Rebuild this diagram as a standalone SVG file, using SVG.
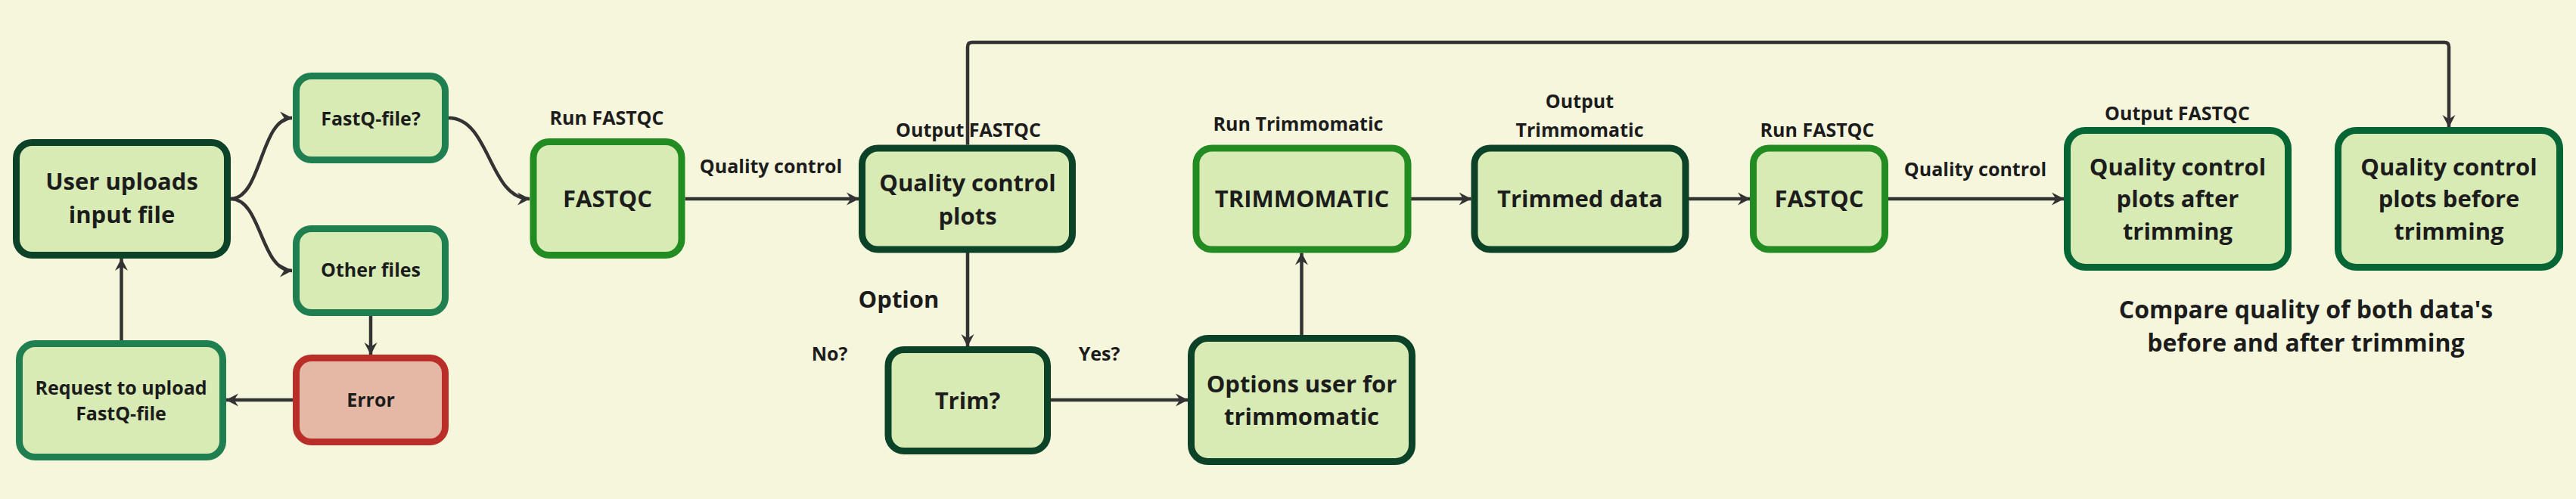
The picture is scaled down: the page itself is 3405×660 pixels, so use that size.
<svg xmlns="http://www.w3.org/2000/svg" width="3405" height="660" viewBox="0 0 3405 660">
<defs>
<style>
.bg{fill:#f5f6dc}
.n{fill:#d8ebb5;stroke-width:9}
.dark{stroke:#0b4228}
.mid{stroke:#1f7f50}
.bright{stroke:#228b22}
.deep{stroke:#066535}
.err{fill:#e4b8a4;stroke:#b92e28}
text{font-family:"Open Sans","Noto Sans","Liberation Sans",sans-serif;font-weight:700;fill:#1c1c1c;text-anchor:middle}
.t31{font-size:31px}
.t25{font-size:25px}
.t32{font-size:32px}
.c{fill:none;stroke:#333333;stroke-width:4.5}
.a{marker-end:url(#arr)}
</style>
<marker id="arr" markerUnits="userSpaceOnUse" viewBox="0 0 17 18" refX="16" refY="9" markerWidth="17" markerHeight="18" orient="auto">
<path d="M0,0.5 L16.5,9 L0,17.5 L5.5,9 Z" fill="#333333"/>
</marker>
</defs>
<rect class="bg" x="0" y="0" width="3405" height="660"/>

<g id="connectors">
<path class="c a" d="M305,263 C346,263 344,156 386,156"/>
<path class="c a" d="M305,263 C346,263 344,358 386,358"/>
<path class="c a" d="M593,156 C648,156 646,263 700,263"/>
<path class="c a" d="M490,418 V469"/>
<path class="c a" d="M387,529 H299"/>
<path class="c a" d="M160.5,450 V342"/>
<path class="c a" d="M905.5,263 H1135"/>
<path class="c a" d="M1279,334 V458"/>
<path class="c a" d="M1389,529 H1570"/>
<path class="c a" d="M1720.5,443 V334.5"/>
<path class="c a" d="M1865,263 H1944.5"/>
<path class="c a" d="M2232,263 H2313"/>
<path class="c a" d="M2496,263 H2728"/>
<path class="c a" d="M1279,191.5 V62 Q1279,56 1285,56 H3231 Q3237,56 3237,62 V168"/>
</g>

<g id="labels">
<text class="t25" x="802" y="165">Run FASTQC</text>
<text class="t25" x="1019" y="229">Quality control</text>
<text class="t25" x="1280" y="181">Output FASTQC</text>
<text class="t31" x="1188" y="407">Option</text>
<text class="t25" x="1096.5" y="477">No?</text>
<text class="t25" x="1453" y="477">Yes?</text>
<text class="t25" x="1716" y="172.5">Run Trimmomatic</text>
<text class="t25" x="2088" y="143">Output</text>
<text class="t25" x="2088" y="181">Trimmomatic</text>
<text class="t25" x="2402" y="181">Run FASTQC</text>
<text class="t25" x="2611" y="233">Quality control</text>
<text class="t25" x="2878" y="159">Output FASTQC</text>
<text class="t32" x="3048" y="421">Compare quality of both data's</text>
<text class="t32" x="3048" y="465">before and after trimming</text>
</g>

<g id="user">
<rect class="n dark" x="21.5" y="188.5" width="279" height="149" rx="21"/>
<text class="t31" x="161" y="251">User uploads</text>
<text class="t31" x="161" y="295">input file</text>
</g>
<g id="fastq">
<rect class="n mid" x="391.5" y="100.5" width="197" height="111" rx="20"/>
<text class="t25" x="490" y="166">FastQ-file?</text>
</g>
<g id="other">
<rect class="n mid" x="391.5" y="302.5" width="197" height="111" rx="20"/>
<text class="t25" x="490" y="366">Other files</text>
</g>
<g id="error">
<rect class="n err" x="391.5" y="473.5" width="197" height="111" rx="20"/>
<text class="t25" x="490" y="538">Error</text>
</g>
<g id="request">
<rect class="n mid" x="25.5" y="454.5" width="269" height="150" rx="21"/>
<text class="t25" x="160" y="522">Request to upload</text>
<text class="t25" x="160" y="556">FastQ-file</text>
</g>
<g id="fastqc1">
<rect class="n bright" x="705" y="187.5" width="196" height="150" rx="21"/>
<text class="t31" x="803" y="274">FASTQC</text>
</g>
<g id="qcplots">
<rect class="n dark" x="1139.5" y="196" width="278" height="134" rx="21"/>
<text class="t31" x="1279" y="252.5">Quality control</text>
<text class="t31" x="1279" y="296.5">plots</text>
</g>
<g id="trim">
<rect class="n dark" x="1174" y="462.5" width="210.5" height="134" rx="21"/>
<text class="t31" x="1279" y="541">Trim?</text>
</g>
<g id="options">
<rect class="n dark" x="1574.5" y="447.5" width="292" height="163" rx="22"/>
<text class="t31" x="1720.5" y="518.5">Options user for</text>
<text class="t31" x="1720.5" y="562">trimmomatic</text>
</g>
<g id="trimmomatic">
<rect class="n bright" x="1581" y="196" width="280" height="134" rx="21"/>
<text class="t31" x="1721" y="274">TRIMMOMATIC</text>
</g>
<g id="trimmed">
<rect class="n dark" x="1949" y="196" width="279" height="134" rx="21"/>
<text class="t31" x="2088.5" y="274">Trimmed data</text>
</g>
<g id="fastqc2">
<rect class="n bright" x="2317.5" y="196" width="174" height="134" rx="21"/>
<text class="t31" x="2404.5" y="274">FASTQC</text>
</g>
<g id="qcafter">
<rect class="n deep" x="2732.5" y="172.5" width="292" height="181" rx="24"/>
<text class="t31" x="2878.5" y="231.5">Quality control</text>
<text class="t31" x="2878.5" y="274">plots after</text>
<text class="t31" x="2878.5" y="316.5">trimming</text>
</g>
<g id="qcbefore">
<rect class="n deep" x="3090.5" y="172.5" width="293" height="181" rx="24"/>
<text class="t31" x="3237" y="231.5">Quality control</text>
<text class="t31" x="3237" y="274">plots before</text>
<text class="t31" x="3237" y="316.5">trimming</text>
</g>
</svg>
